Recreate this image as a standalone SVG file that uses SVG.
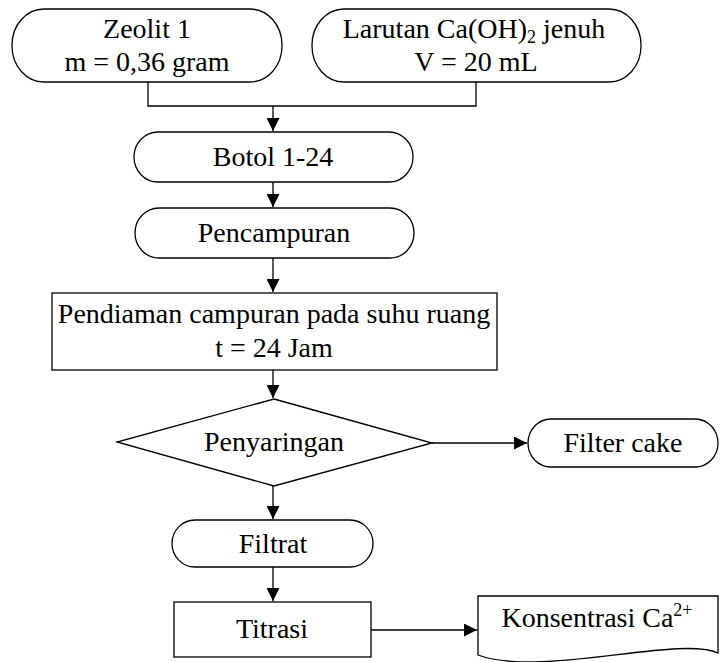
<svg xmlns="http://www.w3.org/2000/svg" width="720" height="662" viewBox="0 0 720 662">
<style>
.s{fill:#fff;stroke:#000;stroke-width:1.3}
.c{fill:none;stroke:#000;stroke-width:1.3}
text{font-family:"Liberation Serif","Times New Roman",serif;font-size:28px;fill:#000;text-anchor:middle}
.sm{font-size:18px}
</style>
<defs>
<marker id="a" viewBox="0 0 13 13" refX="13" refY="6.5" markerWidth="13" markerHeight="13" markerUnits="userSpaceOnUse" orient="auto">
<path d="M0,0 L13,6.5 L0,13 Z" fill="#000"/>
</marker>
</defs>
<rect width="720" height="662" fill="#fff"/>
<g id="connectors">
<path class="c" d="M148,82 V106 H476 V82"/>
<path class="c" d="M273,106 V131" marker-end="url(#a)"/>
<path class="c" d="M273,182 V207" marker-end="url(#a)"/>
<path class="c" d="M273,258 V292" marker-end="url(#a)"/>
<path class="c" d="M273,370 V398" marker-end="url(#a)"/>
<path class="c" d="M273,486 V519" marker-end="url(#a)"/>
<path class="c" d="M273,567 V601" marker-end="url(#a)"/>
<path class="c" d="M432,443 H527" marker-end="url(#a)"/>
<path class="c" d="M371,630 H477" marker-end="url(#a)"/>
</g>
<g id="zeolit">
<rect class="s" x="12" y="9" width="270" height="73" rx="32" ry="36"/>
<text x="147" y="38">Zeolit 1</text>
<text x="147" y="71">m = 0,36 gram</text>
</g>
<g id="larutan">
<rect class="s" x="312" y="9" width="329" height="73" rx="32" ry="36"/>
<text x="474" y="38">Larutan Ca(OH)<tspan class="sm" dy="5">2</tspan><tspan dy="-5"> jenuh</tspan></text>
<text x="476" y="71">V = 20 mL</text>
</g>
<g id="botol">
<rect class="s" x="134" y="132" width="279" height="50" rx="24" ry="25"/>
<text x="273" y="166">Botol 1-24</text>
</g>
<g id="pencampuran">
<rect class="s" x="135" y="208" width="279" height="50" rx="24" ry="25"/>
<text x="274" y="242">Pencampuran</text>
</g>
<g id="pendiaman">
<rect class="s" x="52" y="293" width="445" height="77"/>
<text x="274" y="323">Pendiaman campuran pada suhu ruang</text>
<text x="274" y="357">t = 24 Jam</text>
</g>
<g id="penyaringan">
<path class="s" d="M274,399 L432,443 L274,486 L117,442 Z"/>
<text x="274" y="451">Penyaringan</text>
</g>
<g id="filtercake">
<rect class="s" x="528" y="419" width="190" height="48" rx="23" ry="24"/>
<text x="623" y="452">Filter cake</text>
</g>
<g id="filtrat">
<rect class="s" x="172" y="520" width="201" height="47" rx="23" ry="23.5"/>
<text x="273" y="553">Filtrat</text>
</g>
<g id="titrasi">
<rect class="s" x="174" y="602" width="197" height="55"/>
<text x="272" y="638">Titrasi</text>
</g>
<g id="konsentrasi">
<path class="s" d="M478,596 H718 V653 C680,635 540,678 478,655 Z"/>
<text x="597" y="627">Konsentrasi Ca<tspan class="sm" dy="-11">2+</tspan></text>
</g>
</svg>
